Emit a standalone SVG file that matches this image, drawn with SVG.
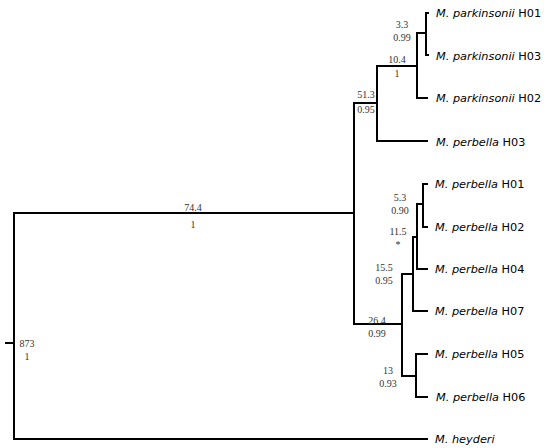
<svg xmlns="http://www.w3.org/2000/svg" width="550" height="448" viewBox="0 0 550 448">
<style>
.br{fill:none;stroke:#000;stroke-width:2;stroke-linecap:square}
.sp{font-family:"DejaVu Sans",sans-serif;font-size:11.3px;fill:#000}
.sp .i{font-style:italic}
.n{font-family:"Liberation Serif",serif;font-size:10px;fill:#333;text-anchor:middle}
</style>
<rect width="550" height="448" fill="#fff"/>
<g id="connectors">
<path class="br" d="M6,343H14M14,213V439M14,439H427M14,213H354M354,103V324M354,103H377M377,66V141M377,141H427M377,66H417M417,33V98M417,98H427M417,33H426M426,13V55M426,13H428M426,55H428M354,324H402M402,274V376M402,274H413M413,237V311M413,311H427M413,237H417M417,204V269M417,269H427M417,204H423M423,184V227M423,184H427M423,227H427M402,376H416M416,354V397M416,354H427M416,397H427"/>
</g>
<g id="n-root"><text class="n" x="27" y="347">873</text><text class="n" x="27" y="360">1</text></g>
<g id="n-74"><text class="n" x="193" y="211">74.4</text><text class="n" x="193" y="228">1</text></g>
<g id="n-51"><text class="n" x="366" y="98">51.3</text><text class="n" x="366" y="113">0.95</text></g>
<g id="n-10"><text class="n" x="397" y="63">10.4</text><text class="n" x="397" y="77">1</text></g>
<g id="n-3"><text class="n" x="402" y="28">3.3</text><text class="n" x="402" y="41">0.99</text></g>
<g id="n-26"><text class="n" x="377" y="324">26.4</text><text class="n" x="377" y="337">0.99</text></g>
<g id="n-15"><text class="n" x="384" y="271">15.5</text><text class="n" x="384" y="284">0.95</text></g>
<g id="n-11"><text class="n" x="398" y="235">11.5</text><text class="n" x="398" y="248">*</text></g>
<g id="n-5"><text class="n" x="400" y="201">5.3</text><text class="n" x="400" y="214">0.90</text></g>
<g id="n-13"><text class="n" x="388" y="374">13</text><text class="n" x="388" y="387">0.93</text></g>
<g id="t-pH01"><text class="sp" x="436" y="17"><tspan class="i">M. parkinsonii</tspan> H01</text></g>
<g id="t-pH03"><text class="sp" x="436" y="60"><tspan class="i">M. parkinsonii</tspan> H03</text></g>
<g id="t-pH02"><text class="sp" x="436" y="102"><tspan class="i">M. parkinsonii</tspan> H02</text></g>
<g id="t-bH03"><text class="sp" x="436" y="146"><tspan class="i">M. perbella</tspan> H03</text></g>
<g id="t-bH01"><text class="sp" x="435" y="188"><tspan class="i">M. perbella</tspan> H01</text></g>
<g id="t-bH02"><text class="sp" x="435" y="231"><tspan class="i">M. perbella</tspan> H02</text></g>
<g id="t-bH04"><text class="sp" x="435" y="273"><tspan class="i">M. perbella</tspan> H04</text></g>
<g id="t-bH07"><text class="sp" x="435" y="315"><tspan class="i">M. perbella</tspan> H07</text></g>
<g id="t-bH05"><text class="sp" x="435" y="358"><tspan class="i">M. perbella</tspan> H05</text></g>
<g id="t-bH06"><text class="sp" x="436" y="401"><tspan class="i">M. perbella</tspan> H06</text></g>
<g id="t-hey"><text class="sp" x="435" y="443"><tspan class="i">M. heyderi</tspan></text></g>
</svg>
